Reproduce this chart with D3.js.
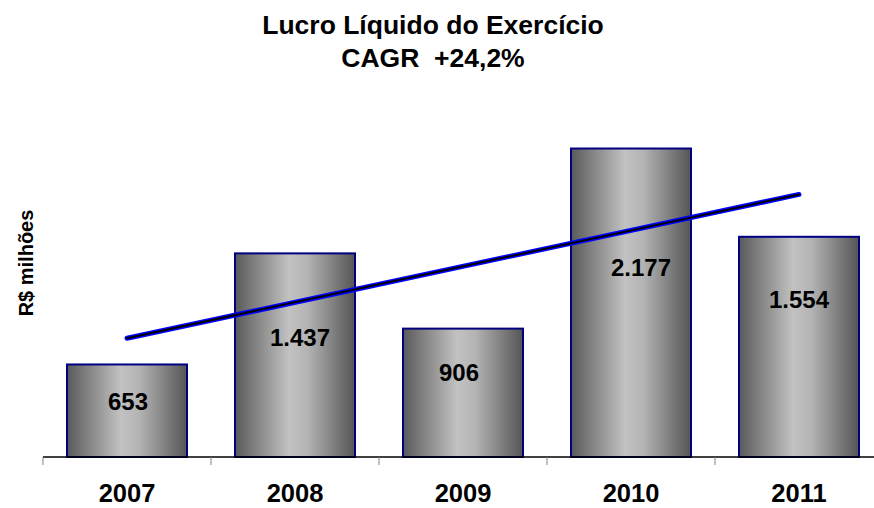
<!DOCTYPE html>
<html>
<head>
<meta charset="utf-8">
<script src="https://cdn.jsdelivr.net/npm/d3@7"></script>
<style>
  html, body { margin: 0; padding: 0; background: #fff; }
  svg { display: block; font-family: "Liberation Sans", Arial, sans-serif; }
</style>
</head>
<body>
<svg id="chart" width="874" height="508"></svg>
<script>
// ---- data ----
const years = ["2007", "2008", "2009", "2010", "2011"];
const profit = [653, 1437, 906, 2177, 1554];
const valueLabels = ["653", "1.437", "906", "2.177", "1.554"];
const trendYears = ["2007", "2011"];
const trendValues = [838, 1853];
const titleLines = ["Lucro Líquido do Exercício", "CAGR  +24,2%"];
const yAxisTitle = "R$ milhões";

// ---- layout (not data) ----
const labelNudge = [[1, -9], [5, -18], [-4, -20], [10, -35], [0, -47]];

const svg = d3.select("#chart");
const baseY = 457;

const x = d3.scaleBand().domain(years).range([43, 883]).paddingInner(0).paddingOuter(0);
const y = d3.scaleLinear().domain([0, 2400]).range([baseY, baseY - 2400 * 0.1417]);
const barW = 120;

// gradient
const defs = svg.append("defs");
const grad = defs.append("linearGradient").attr("id", "barGrad")
  .attr("x1", "0%").attr("x2", "100%").attr("y1", "0%").attr("y2", "0%");
grad.append("stop").attr("offset", "0%").attr("stop-color", "#5a5a5a");
grad.append("stop").attr("offset", "45%").attr("stop-color", "#c2c2c2");
grad.append("stop").attr("offset", "60%").attr("stop-color", "#b4b4b4");
grad.append("stop").attr("offset", "100%").attr("stop-color", "#555555");

// title
svg.append("g").selectAll("text").data(titleLines).join("text")
  .attr("x", 433).attr("y", (d, i) => 34 + i * 33)
  .attr("text-anchor", "middle")
  .style("white-space", "pre")
  .attr("font-size", 26.5).attr("font-weight", "bold").attr("fill", "#000")
  .text(d => d);

// y axis title
svg.append("text")
  .attr("transform", "translate(33,263) rotate(-90)")
  .attr("text-anchor", "middle")
  .attr("font-size", 20).attr("font-weight", "bold")
  .text(yAxisTitle);

// bars
const data = years.map((d, i) => ({ year: d, v: profit[i], label: valueLabels[i], nudge: labelNudge[i] }));
svg.append("g").selectAll("rect").data(data).join("rect")
  .attr("x", d => x(d.year) + (x.bandwidth() - barW) / 2)
  .attr("y", d => y(d.v))
  .attr("width", barW)
  .attr("height", d => baseY - y(d.v))
  .attr("fill", "url(#barGrad)")
  .attr("stroke", "#000080").attr("stroke-width", 2);

// x axis
const axis = d3.axisBottom(x).tickSize(8).tickFormat("");
const axG = svg.append("g").attr("transform", `translate(0,${baseY})`).call(axis);
axG.select(".domain").attr("d", `M43,0H874`).attr("stroke", "#000").attr("stroke-width", 1.5);
axG.selectAll(".tick").remove();
axG.selectAll("line.bd").data(years).join("line").attr("class", "bd")
  .attr("x1", d => x(d)).attr("x2", d => x(d)).attr("y1", 0).attr("y2", 8)
  .attr("stroke", "#808080").attr("stroke-width", 1);

svg.append("g").selectAll("text").data(years).join("text")
  .attr("x", d => x(d) + x.bandwidth() / 2)
  .attr("y", 502)
  .attr("text-anchor", "middle")
  .attr("font-size", 25.5).attr("font-weight", "bold")
  .text(d => d);

// trend line
const trendPts = trendYears.map((d, i) => [x(d) + x.bandwidth() / 2, y(trendValues[i])]);
const lineGen = d3.line();
svg.append("path").attr("d", lineGen(trendPts))
  .attr("stroke", "#0000ff").attr("stroke-width", 5).attr("stroke-linecap", "round").attr("fill", "none");
svg.append("path").attr("d", lineGen(trendPts))
  .attr("stroke", "#000").attr("stroke-width", 2).attr("stroke-linecap", "round").attr("fill", "none");

// value labels
svg.append("g").selectAll("text").data(data).join("text")
  .attr("x", d => x(d.year) + x.bandwidth() / 2 + d.nudge[0])
  .attr("y", d => (y(d.v) + baseY) / 2 + d.nudge[1])
  .attr("dy", "0.35em")
  .attr("text-anchor", "middle")
  .attr("font-size", 24).attr("font-weight", "bold")
  .text(d => d.label);
</script>
</body>
</html>
